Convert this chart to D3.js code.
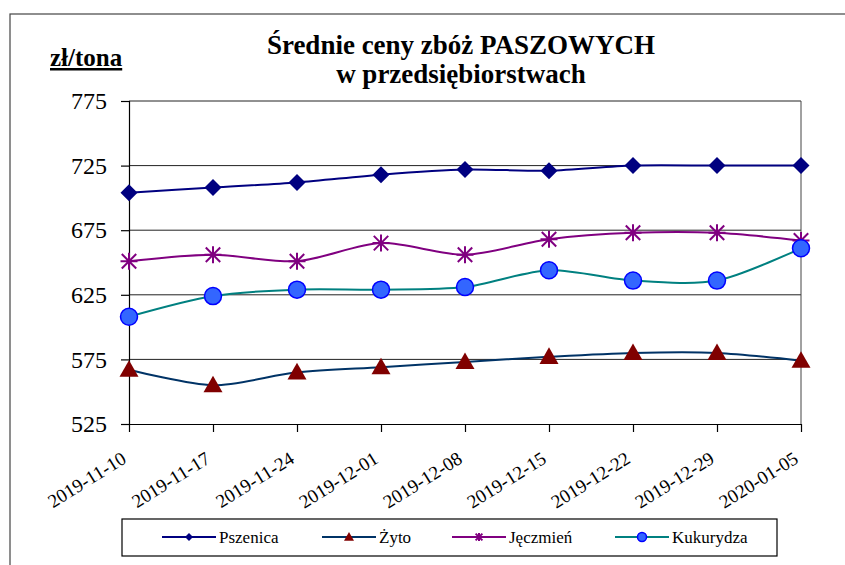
<!DOCTYPE html>
<html>
<head>
<meta charset="utf-8">
<script src="https://cdn.jsdelivr.net/npm/d3@7"></script>
<style>
  body { margin: 0; background: #fff; }
</style>
</head>
<body>
<script>
var weeks = ['2019-11-10', '2019-11-17', '2019-11-24', '2019-12-01', '2019-12-08',
             '2019-12-15', '2019-12-22', '2019-12-29', '2020-01-05'];
var pszenica  = [704, 708, 712, 718, 722, 721, 725, 725, 725];
var zyto      = [567, 555, 565, 569, 573, 577, 580, 580, 574];
var jeczmien  = [651, 656, 651, 665, 656, 668, 673, 673, 667];
var kukurydza = [608, 624, 629, 629, 631, 644, 636, 636, 661];
var yTicks = [525, 575, 625, 675, 725, 775];

var series = [
  { name: 'Pszenica',  values: pszenica,  line: '#000080', marker: 'diamond' },
  { name: 'Żyto',      values: zyto,      line: '#003366', marker: 'triangle' },
  { name: 'Jęczmień',  values: jeczmien,  line: '#800080', marker: 'star' },
  { name: 'Kukurydza', values: kukurydza, line: '#008080', marker: 'circle' }
];

var FONT = 'Liberation Serif';
var W = 845, H = 565,
    plot = { left: 129, top: 101, right: 801, bottom: 424 };

var svg = d3.select('body').append('svg')
    .attr('width', W).attr('height', H)
    .attr('font-family', FONT);

// outer frame
svg.append('rect')
    .attr('x', 10).attr('y', 14).attr('width', 850).attr('height', 570)
    .attr('fill', 'none').attr('stroke', '#444').attr('stroke-width', 1.2);

var x = d3.scalePoint().domain(weeks).range([plot.left, plot.right]);
var y = d3.scaleLinear().domain([525, 775]).range([plot.bottom, plot.top]);

// gridlines
svg.append('g').selectAll('line').data(yTicks.slice(1))
  .enter().append('line')
    .attr('x1', plot.left).attr('x2', plot.right)
    .attr('y1', function(d) { return y(d); })
    .attr('y2', function(d) { return y(d); })
    .attr('stroke', '#222').attr('stroke-width', 1);

// right border of plot area
svg.append('line')
    .attr('x1', plot.right).attr('x2', plot.right)
    .attr('y1', plot.top).attr('y2', plot.bottom)
    .attr('stroke', '#444').attr('stroke-width', 1);

var yAxis = svg.append('g')
    .attr('transform', 'translate(' + plot.left + ',0)')
    .call(d3.axisLeft(y).tickValues(yTicks).tickSize(8).tickPadding(14));
yAxis.selectAll('text').attr('font-size', 24).attr('fill', '#000');

var xAxis = svg.append('g')
    .attr('transform', 'translate(0,' + plot.bottom + ')')
    .call(d3.axisBottom(x).tickSize(8).tickSizeOuter(0));
xAxis.selectAll('text')
    .attr('font-size', 19).attr('fill', '#000')
    .attr('text-anchor', 'end')
    .attr('dy', null).attr('y', 0)
    .attr('transform', 'translate(-2,38) rotate(-32)');
[yAxis, xAxis].forEach(function(a) {
  a.attr('font-family', FONT);
  a.selectAll('path, line').attr('stroke', '#000').attr('stroke-width', 1.2);
});

function markerPath(type, size) {
  var s = size;
  if (type === 'diamond') {
    return 'M0,' + (-s) + 'L' + s + ',0L0,' + s + 'L' + (-s) + ',0Z';
  }
  if (type === 'triangle') {
    return 'M0,' + (-s) + 'L' + s + ',' + (s * 0.75) + 'L' + (-s) + ',' + (s * 0.75) + 'Z';
  }
  if (type === 'star') {
    var h = s * 0.85;
    return 'M' + (-s) + ',0L' + s + ',0M0,' + (-s) + 'L0,' + s +
        'M' + (-h) + ',' + (-h) + 'L' + h + ',' + h +
        'M' + (-h) + ',' + h + 'L' + h + ',' + (-h);
  }
  return null;
}

function drawMarker(g, type, size) {
  if (type === 'circle') {
    g.append('circle').attr('r', size)
        .attr('fill', '#3366ff').attr('stroke', '#0000ff').attr('stroke-width', 1.5);
  } else if (type === 'star') {
    g.append('path').attr('d', markerPath(type, size))
        .attr('fill', 'none').attr('stroke', '#800080').attr('stroke-width', 2);
  } else {
    var col = type === 'triangle' ? '#800000' : '#000080';
    g.append('path').attr('d', markerPath(type, size)).attr('fill', col);
  }
}

var markerSize = { diamond: 8.5, triangle: 9.5, star: 8.5, circle: 8.5 };

var line = d3.line()
    .x(function(d, i) { return x(weeks[i]); })
    .y(function(d) { return y(d); })
    .curve(d3.curveCardinal.tension(0.15));

series.forEach(function(s) {
  svg.append('path')
      .attr('d', line(s.values))
      .attr('fill', 'none').attr('stroke', s.line).attr('stroke-width', 2);
});

series.forEach(function(s) {
  s.values.forEach(function(v, i) {
    var g = svg.append('g')
        .attr('transform', 'translate(' + x(weeks[i]) + ',' + y(v) + ')');
    drawMarker(g, s.marker, markerSize[s.marker]);
  });
});

// titles
svg.append('text')
    .attr('x', 461).attr('y', 54).attr('text-anchor', 'middle')
    .attr('font-size', 27).attr('font-weight', 'bold')
    .text('Średnie ceny zbóż PASZOWYCH');
svg.append('text')
    .attr('x', 461).attr('y', 83).attr('text-anchor', 'middle')
    .attr('font-size', 27).attr('font-weight', 'bold')
    .text('w przedsiębiorstwach');
svg.append('text')
    .attr('x', 50).attr('y', 66)
    .attr('font-size', 25).attr('font-weight', 'bold')
    .attr('text-decoration', 'underline')
    .text('zł/tona');

// legend
var legend = svg.append('g');
legend.append('rect')
    .attr('x', 122).attr('y', 519).attr('width', 655).attr('height', 37)
    .attr('fill', '#fff').attr('stroke', '#000').attr('stroke-width', 1.2);
var legendX = [162, 322, 452, 615];
var legendSize = { diamond: 4, triangle: 5, star: 4, circle: 4.5 };
series.forEach(function(s, i) {
  var g = legend.append('g').attr('transform', 'translate(' + legendX[i] + ',537)');
  g.append('line').attr('x1', 0).attr('x2', 54)
      .attr('stroke', s.line).attr('stroke-width', 2);
  var m = g.append('g').attr('transform', 'translate(27,0)');
  drawMarker(m, s.marker, legendSize[s.marker]);
  g.append('text').attr('x', 57).attr('y', 6)
      .attr('font-size', 17).text(s.name);
});
</script>
</body>
</html>
